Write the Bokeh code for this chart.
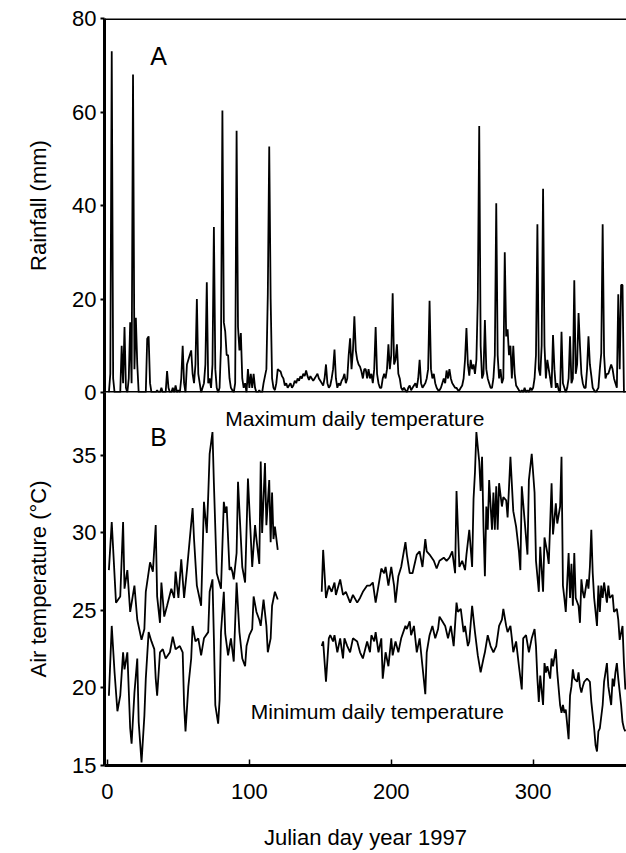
from bokeh.plotting import figure
from bokeh.models import Range1d, Span, Label, FixedTicker
from bokeh.layouts import column
from bokeh.embed import file_html
from bokeh.resources import INLINE

FONT = "Liberation Sans"

# ---------------- data ----------------
# Rainfall (mm): days with rain and amounts; all other days had 0 mm
rain_days = [2, 3, 4, 10, 11, 12, 13, 15, 16, 17, 18, 19, 20, 21, 28, 29, 30, 35, 38, 42, 43, 46, 48, 50,
             52, 53, 54, 56, 57, 58, 59, 60, 61, 62, 63, 64, 65, 67, 68, 69, 70, 71, 72, 73, 74, 75, 76, 77,
             79, 80, 81, 82, 83, 84, 85, 86, 87, 88, 90, 91, 92, 93, 94, 95, 96, 97, 99, 100, 101, 102, 103,
             104, 107, 110, 111, 112, 113, 114, 115, 116, 117, 118, 119,
             120, 121, 122, 123, 124, 125, 126, 127, 128, 129, 130, 131, 132, 133, 134, 135, 136, 137, 138,
             139, 140, 141, 142, 143, 144, 145, 146, 147, 148, 149, 150, 151, 152, 153, 154, 155, 156, 157,
             158, 159, 160, 161, 162, 163, 164, 165, 166, 167, 168, 169, 170, 171, 172, 173, 174, 175, 176,
             177, 178, 179, 180, 181,
             182, 183, 184, 185, 186, 187, 188, 189, 190, 191, 192, 193, 194, 195, 196, 197, 198, 199, 200,
             201, 202, 203, 204, 205, 206, 207, 208, 209, 210, 212, 213, 214, 215, 216, 217, 218, 219, 220,
             221, 222, 223, 224, 225, 226, 227, 228, 229, 230, 231, 232, 233, 234, 235, 236, 237, 238, 239,
             240, 241, 242, 243, 244, 245, 246, 247, 248, 249, 250, 251, 252, 253, 254, 255, 256, 257, 258,
             259, 260, 261, 262, 263, 264, 265, 266, 267, 268, 269, 270, 271, 272, 273, 274, 275, 276, 277,
             278, 279, 280, 281, 282, 283, 284, 285, 286, 287, 288, 289, 290, 292, 294, 296, 298, 299, 300,
             301, 302, 303, 304, 305, 306, 307, 308, 309, 310, 311, 312, 313, 314, 315, 316, 317, 318, 320,
             321, 322, 324, 325, 326, 327, 328, 329, 330, 331, 332, 333, 334, 335, 336, 337, 338, 339, 340,
             341, 342, 343, 345, 346, 347, 348, 349, 350, 351, 352, 353, 354, 355, 356, 357, 358, 359, 360,
             361, 362, 363]
rain_mm = [4, 73, 3, 10, 2, 14, 1, 3, 15, 2, 68, 5, 16, 6, 11.5, 12, 2, 0.5, 1, 4.6, 1, 1, 1.5, 0.5,
           3, 10, 2, 6, 7, 8, 9, 4, 2, 6, 20, 4, 2, 1, 2, 6, 23.6, 2, 3, 1, 6, 35.4, 5, 1,
           1, 10, 60.3, 15, 13, 8, 8, 3, 1, 0.5, 2, 56, 14, 9, 12.7, 3, 1, 2, 5, 1, 4, 1, 4,
           1, 0.5, 2, 3.5, 5, 21, 52.6, 20, 3, 1, 0.5, 2,
           5, 4.7, 4.5, 3.5, 3, 1.5, 2, 1, 1.5, 2, 1, 1.5, 2.5, 2, 3, 2.5, 3.5, 3, 4,
           3.5, 4.7, 3.5, 2.7, 3.5, 3, 2.5, 3, 3.5, 4, 3, 2.5, 2, 1.5, 3, 6, 2, 1, 1.5,
           3, 5, 9.2, 3, 1, 2, 1.5, 2.5, 3, 4, 2, 3, 8, 11.6, 5, 9, 16.3, 9, 7,
           6, 5.5, 4.5, 3, 5,
           5, 3, 5, 3, 4, 2, 5, 14, 4, 2, 1, 1, 3, 4, 3, 5, 10.3, 5, 8,
           21.2, 6, 7, 10.3, 4, 3, 1, 0.5, 1, 0.5, 1, 1.5, 0.5, 1, 1.5, 2, 1, 3, 7,
           2, 1, 1.5, 2, 3, 5, 19.6, 5, 3, 4, 2, 1, 0.5, 0.5, 1, 2, 3, 2, 4.7,
           3, 5, 3, 2, 1.5, 1, 1, 0.5, 0.5, 1, 1.5, 3, 7, 13.8, 6, 3.6, 7, 5, 6,
           4, 7, 20, 57, 10, 3, 4, 15.5, 5, 3, 2, 1, 1, 3, 8, 40.5, 8, 3, 5,
           2, 3, 30, 12, 13.5, 8, 10, 3, 10, 4, 1.5, 1, 0.5, 0.5, 1, 0.5, 1, 0.5, 1,
           3, 8, 36, 5, 3.6, 10, 43.6, 10, 3, 7, 5, 3, 1, 12.3, 5, 1, 2, 0.5, 13,
           2, 1, 1, 3, 12, 2, 3, 24, 4, 6, 17, 10, 4, 2, 1, 1, 5, 12, 6,
           3.6, 1, 0.5, 0.5, 1, 5, 8.4, 36, 8, 3, 4, 4, 5, 6, 5, 3, 2, 1, 21,
           5, 23, 23]

# Maximum daily temperature (°C), before and after the data gap
tmax_days_1 = [1, 3, 6, 9, 11, 12, 14, 16, 19, 21, 24, 26, 27, 30, 32, 34, 35, 37, 38, 40, 42, 45, 47, 48,
               50, 52, 54, 56, 58, 60, 61, 63, 66, 68, 70, 71, 72, 74, 75, 77, 80, 82, 83, 84, 86, 87, 88,
               89, 91, 92, 95, 97, 99, 101, 102, 104, 105, 107, 108, 109, 111, 112, 114, 115, 116, 117,
               118, 120]
tmax_1 = [27.6, 30.7, 25.5, 25.9, 30.7, 26.4, 27.6, 24.9, 26.6, 24.4, 23.1, 23.8, 26.2, 28.1, 27.5, 30.5,
          25.9, 24.2, 26.8, 24.6, 25.3, 26.4, 25.8, 27.5, 25.8, 28.3, 25.8, 27.6, 29.6, 31.6, 29.6, 26.6,
          25.3, 32.0, 30.0, 32.4, 35.1, 36.5, 33.2, 27.4, 26.4, 32.0, 31.3, 31.7, 27.6, 27.8, 27.5,
          27.0, 28.7, 33.3, 27.8, 26.8, 33.5, 29.7, 27.8, 30.5, 29.6, 28.0, 34.6, 30.0, 34.5, 30.5, 33.4,
          29.4, 32.6, 29.6, 30.4, 28.9]
tmax_days_2 = [151, 152, 154, 156, 158, 160, 161, 164, 166, 168, 171, 173, 176, 178, 180, 183, 185, 187,
               189, 191, 193, 195, 196, 198, 200, 202, 203, 205, 207, 210, 211, 213, 215, 218, 220, 222,
               224, 225, 227, 230, 232, 234, 237, 239, 241, 243, 245, 246, 248, 250, 252, 253, 255, 257,
               258, 259, 260, 262, 263, 264, 265, 266, 267, 268, 269, 271, 272, 273, 274, 275, 276, 278,
               279, 281, 282, 284, 286, 288, 290, 291, 292, 294, 296, 297, 299, 301, 302, 304, 305, 307,
               308, 310, 311, 313, 314, 316, 317, 319, 320, 321, 322, 323, 325, 326, 327, 328, 329, 330,
               332, 333, 334, 335, 336, 338, 339, 340, 341, 342, 343, 345, 346, 347, 348, 349, 350, 352,
               353, 354, 356, 357, 359, 360, 361, 363, 364, 365]
tmax_2 = [26.2, 28.9, 25.8, 26.6, 26.2, 26.8, 26.0, 27.0, 26.0, 26.2, 25.5, 26.0, 25.5, 25.8, 26.2, 26.6,
          26.6, 26.8, 25.5, 26.6, 27.7, 27.4, 27.8, 26.6, 27.8, 26.6, 25.5, 27.2, 27.8, 29.4, 28.6, 27.4,
          27.4, 28.6, 28.8, 27.8, 29.6, 28.8, 28.6, 28.2, 27.7, 28.2, 28.4, 28.2, 28.4, 28.8, 27.4, 32.7,
          27.8, 28.2, 27.6, 28.6, 30.2, 27.8, 32.2, 33.9, 36.5, 34.6, 32.7, 34.9, 30.4, 27.2, 31.7, 30.2,
          33.4, 30.2, 32.6, 30.2, 33.0, 30.2, 33.2, 31.7, 32.3, 32.1, 31.0, 34.9, 31.4, 30.4, 28.8, 27.6,
          33.0, 30.8, 28.6, 33.4, 35.1, 32.6, 28.2, 26.2, 29.1, 26.2, 29.7, 28.7, 28.0, 33.2, 29.9, 31.9,
          30.6, 31.7, 34.9, 26.6, 25.8, 24.9, 28.7, 25.8, 28.0, 25.3, 28.7, 25.8, 25.3, 24.2, 27.0, 26.2,
          25.8, 27.0, 26.4, 27.8, 30.2, 27.4, 25.8, 24.0, 26.6, 24.9, 26.6, 25.8, 26.8, 25.5, 26.6, 25.8,
          26.0, 24.9, 25.1, 24.4, 23.1, 24.0, 21.6, 19.9]

# Minimum daily temperature (°C)
tmin_days_1 = [1, 3, 5, 7, 9, 11, 12, 14, 16, 17, 19, 21, 22, 24, 26, 27, 29, 31, 33, 34, 35, 37, 39, 41,
               44, 46, 48, 51, 53, 54, 55, 57, 59, 60, 62, 64, 66, 68, 71, 72, 74, 75, 76, 78, 79, 80, 82,
               83, 85, 87, 89, 91, 93, 95, 97, 98, 100, 102, 103, 105, 107, 108, 110, 112, 113, 115, 116,
               118, 120]
tmin_1 = [19.5, 24.0, 21.0, 18.5, 19.5, 22.3, 21.2, 22.3, 17.4, 16.4, 19.7, 21.9, 17.8, 15.2, 18.2, 20.6,
          23.6, 23.0, 22.5, 20.6, 19.5, 22.3, 22.5, 21.9, 22.3, 23.3, 22.5, 22.7, 22.3, 18.9, 17.2, 20.1,
          21.9, 24.0, 23.0, 23.2, 22.1, 23.2, 23.6, 26.2, 27.0, 23.2, 18.9, 17.7, 19.2, 23.6, 26.2,
          23.5, 22.1, 23.2, 21.7, 26.8, 23.6, 21.9, 21.4, 22.7, 23.4, 23.8, 25.9, 24.9, 24.4, 24.0, 25.7,
          24.0, 22.3, 23.2, 25.3, 26.2, 25.7]
tmin_days_2 = [151, 152, 154, 156, 157, 159, 160, 162, 164, 166, 167, 169, 171, 173, 176, 178, 180, 183,
               185, 186, 188, 189, 191, 193, 194, 196, 198, 200, 201, 203, 205, 207, 210, 211, 213, 214,
               216, 218, 220, 222, 224, 225, 227, 229, 231, 233, 234, 236, 238, 240, 242, 244, 246, 247,
               249, 251, 252, 254, 255, 257, 259, 261, 263, 265, 266, 268, 270, 272, 274, 276, 278, 279,
               281, 282, 284, 285, 286, 288, 290, 292, 293, 295, 297, 299, 301, 302, 303, 304, 305, 307,
               308, 309, 310, 312, 313, 314, 316, 317, 319, 320, 321, 322, 323, 325, 326, 327, 328, 329,
               331, 332, 333, 334, 335, 336, 338, 340, 341, 343, 344, 345, 346, 347, 349, 350, 351, 352,
               353, 355, 356, 357, 358, 359, 360, 362, 363, 364, 365]
tmin_2 = [22.7, 23.0, 20.4, 23.2, 23.4, 23.0, 23.4, 22.3, 23.2, 21.9, 23.2, 22.7, 22.3, 23.2, 23.0, 22.3,
          21.9, 23.0, 22.3, 23.4, 23.0, 23.6, 22.3, 23.2, 20.6, 22.3, 21.4, 23.2, 22.1, 23.0, 22.3, 23.2,
          24.0, 23.8, 24.3, 23.4, 24.0, 22.3, 23.2, 21.4, 19.6, 22.3, 23.4, 24.0, 23.2, 23.8, 24.6, 24.3,
          24.0, 23.2, 24.0, 22.7, 25.5, 24.9, 25.1, 23.6, 24.0, 22.7, 23.0, 25.3, 23.6, 22.1, 21.0, 21.9,
          22.3, 23.4, 22.7, 22.3, 22.7, 24.0, 24.4, 25.1, 24.0, 23.6, 24.0, 23.2, 22.3, 23.0, 21.4, 19.9,
          23.2, 23.4, 22.3, 23.2, 23.8, 22.7, 20.6, 19.1, 20.8, 18.9, 21.6, 21.0, 21.4, 20.6, 21.9, 21.4,
          22.5, 21.0, 18.9, 18.4, 18.9, 18.4, 18.6, 16.7, 19.5, 20.1, 21.2, 20.6, 20.4, 21.0, 20.1, 19.7,
          20.1, 20.4, 20.6, 20.4, 19.1, 17.4, 16.3, 15.9, 17.2, 17.4, 18.9, 20.4, 21.0, 21.6, 20.1, 18.9,
          20.6, 20.1, 21.0, 21.6, 20.6, 18.9, 17.8, 17.4, 17.2]

rain_ticks = [0, 20, 40, 60, 80]
temp_ticks = [15, 20, 25, 30, 35]
day_ticks = [0, 100, 200, 300]

# daily rainfall series (no-rain days are 0 mm)
rain_lookup = dict(zip(rain_days, rain_mm))
all_days = list(range(1, 366))
rain_daily = [rain_lookup.get(d, 0) for d in all_days]

X_RANGE = (-2.1, 365.8)
LW = 1.8


def style_left_axis(p, ticks, label):
    ax = p.yaxis[0]
    ax.ticker = FixedTicker(ticks=ticks)
    ax.axis_line_width = 3
    ax.axis_line_color = "black"
    ax.major_tick_out = 4
    ax.major_tick_in = 0
    ax.major_tick_line_width = 2
    ax.minor_tick_line_color = None
    ax.major_label_text_font = FONT
    ax.major_label_text_font_size = "22px"
    ax.major_label_text_color = "black"
    ax.major_label_standoff = 4
    ax.axis_label = label
    ax.axis_label_text_font = FONT
    ax.axis_label_text_font_size = "22px"
    ax.axis_label_text_font_style = "normal"
    ax.axis_label_text_color = "black"
    ax.axis_label_standoff = 18


# ---------------- panel A: rainfall ----------------
p1 = figure(width=626, height=404, x_range=Range1d(*X_RANGE), y_range=Range1d(0, 80),
            output_backend="svg", toolbar_location=None,
            min_border_left=104, min_border_right=0, min_border_top=18, min_border_bottom=12)
p1.grid.visible = False
p1.outline_line_color = None
p1.xaxis.visible = False
style_left_axis(p1, rain_ticks, "Rainfall (mm)")
p1.line(all_days, rain_daily, line_color="black", line_width=LW)
p1.add_layout(Span(location=80, dimension="width", line_color="black", line_width=3))
p1.add_layout(Span(location=0, dimension="width", line_color="black", line_width=3))
p1.add_layout(Label(x=36, y=72, text="A", text_align="center", text_baseline="middle",
                    text_font=FONT, text_font_size="25px", text_color="black"))

# ---------------- panel B: air temperature ----------------
p2 = figure(width=626, height=460, x_range=Range1d(*X_RANGE), y_range=Range1d(15, 39.05),
            output_backend="svg", toolbar_location=None,
            min_border_left=104, min_border_right=0, min_border_top=0, min_border_bottom=86)
p2.margin = (-12, 0, 0, 0)
p2.background_fill_alpha = 0
p2.border_fill_alpha = 0
p2.grid.visible = False
p2.outline_line_color = None
style_left_axis(p2, temp_ticks, "Air temperature (°C)")
xa = p2.xaxis[0]
xa.ticker = FixedTicker(ticks=day_ticks)
xa.axis_line_width = 3
xa.axis_line_color = "black"
xa.major_tick_in = 6
xa.major_tick_out = 0
xa.major_tick_line_width = 1.5
xa.minor_tick_line_color = None
xa.major_label_text_font = FONT
xa.major_label_text_font_size = "22px"
xa.major_label_text_color = "black"
xa.major_label_standoff = 18
xa.axis_label = "Julian day year 1997"
xa.axis_label_text_font = FONT
xa.axis_label_text_font_size = "22px"
xa.axis_label_text_font_style = "normal"
xa.axis_label_text_color = "black"
xa.axis_label_standoff = 23

for dx, dy in [(tmax_days_1, tmax_1), (tmax_days_2, tmax_2), (tmin_days_1, tmin_1), (tmin_days_2, tmin_2)]:
    p2.line(dx, dy, line_color="black", line_width=LW)

p2.add_layout(Label(x=36, y=36.2, text="B", text_align="center", text_baseline="middle",
                    text_font=FONT, text_font_size="25px", text_color="black"))
p2.add_layout(Label(x=83, y=37.35, text="Maximum daily temperature", text_align="left",
                    text_baseline="alphabetic", text_font=FONT, text_font_size="21px", text_color="black"))
p2.add_layout(Label(x=101, y=18.45, text="Minimum daily temperature", text_align="left",
                    text_baseline="alphabetic", text_font=FONT, text_font_size="21px", text_color="black"))

layout = column(p1, p2, spacing=0)
open("out.html", "w").write(file_html(layout, INLINE))
